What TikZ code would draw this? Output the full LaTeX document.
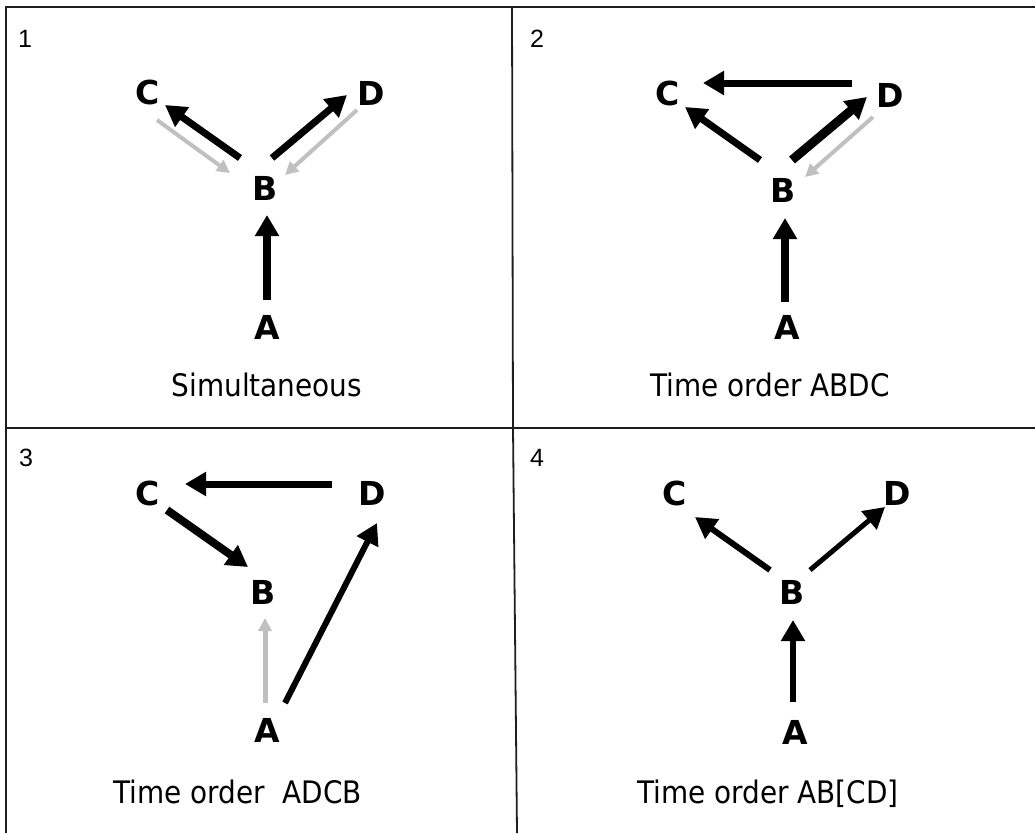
\documentclass[tikz,border=0pt]{standalone}
\usepackage{fontspec}
\setmainfont{DejaVu Sans}
\newfontfamily\numfont{Liberation Sans}
\newfontfamily\lblfont{DejaVu Sans Condensed}
\usetikzlibrary{arrows.meta,calc}
\definecolor{lightarr}{RGB}{192,192,192}
\definecolor{gridline}{RGB}{30,30,30}
\begin{document}
\begin{tikzpicture}[x=1pt,y=-1pt,
  letter/.style={font=\fontsize{33}{33}\selectfont\bfseries, inner sep=0pt},
  lbl/.style={font=\lblfont\fontsize{31}{31}\selectfont, inner sep=0pt, anchor=base},
  num/.style={font=\numfont\fontsize{25}{25}\selectfont, inner sep=0pt},
  blk/.style={line width=#1, -{Triangle[length=21pt,width=23pt]}},
  gry/.style={line width=#1, draw=lightarr, -{Triangle[length=13pt,width=13pt]}},
  frame/.style={line width=1.8pt, draw=gridline}]
\useasboundingbox (0,0) rectangle (1035,833);
\fill[white] (0,0) rectangle (1035,833);
% grid
\draw[frame] (6,833) -- (6,7) -- (1035,7);
\draw[frame] (6,428) -- (1035,428);
\draw[frame] (512,7) -- (513,428) -- (517,833);
% numbers
\node[num] (n1) at (25,39) {1};
\node[num] (n2) at (537,39) {2};
\node[num] (n3) at (26,458) {3};
\node[num] (n4) at (537,458) {4};
% panel 1
\node[letter] (C1) at (148,92) {C};
\node[letter] (D1) at (371,93) {D};
\node[letter] (B1) at (265,188) {B};
\node[letter] (A1) at (267,327) {A};
\draw[blk=7pt] ($(B1)+(-25,-30)$) -- ($(C1)+(17,13)$);
\draw[gry=4pt] ($(C1)+(9,28)$) -- ($(B1)+(-35,-15)$);
\draw[blk=7pt] ($(B1)+(7,-30)$) -- ($(D1)+(-24,2)$);
\draw[gry=4pt] ($(D1)+(-14,17)$) -- ($(B1)+(20,-13)$);
\draw[blk=8pt] ($(A1)+(0,-27)$) -- ($(B1)+(2,27)$);
\node[lbl] (L1) at (267,396) {Simultaneous};
% panel 2
\node[letter] (C2) at (668,93) {C};
\node[letter] (D2) at (890,95) {D};
\node[letter] (B2) at (783,190) {B};
\node[letter] (A2) at (787,327) {A};
\draw[blk=7pt] ($(D2)+(-38,-12)$) -- ($(C2)+(35,-10)$);
\draw[blk=7pt] ($(B2)+(-23,-30)$) -- ($(C2)+(17,14)$);
\draw[blk=9pt] ($(B2)+(9,-30)$) -- ($(D2)+(-23,2)$);
\draw[gry=4pt] ($(D2)+(-17,22)$) -- ($(B2)+(22,-13)$);
\draw[blk=8pt] ($(A2)+(-2,-25)$) -- ($(B2)+(2,28)$);
\node[lbl] (L2) at (770,396) {Time order ABDC};
% panel 3
\node[letter] (C3) at (148,493) {C};
\node[letter] (D3) at (372,493) {D};
\node[letter] (B3) at (263,592) {B};
\node[letter] (A3) at (267,730) {A};
\draw[blk=7pt] ($(D3)+(-40,-9)$) -- ($(C3)+(37,-9)$);
\draw[blk=8pt] ($(C3)+(19,17)$) -- ($(B3)+(-15,-25)$);
\draw[gry=5pt] ($(A3)+(-2,-27)$) -- ($(B3)+(2,26)$);
\draw[blk=6pt] ($(A3)+(18,-27)$) -- ($(D3)+(5,30)$);
\node[lbl] (L3) at (238,803) {Time order\ \ ADCB};
% panel 4
\node[letter] (C4) at (675,493) {C};
\node[letter] (D4) at (897,493) {D};
\node[letter] (B4) at (792,592) {B};
\node[letter] (A4) at (795,732) {A};
\draw[blk=6pt] ($(B4)+(-22,-22)$) -- ($(C4)+(20,24)$);
\draw[blk=5pt] ($(B4)+(18,-22)$) -- ($(D4)+(-12,14)$);
\draw[blk=6pt] ($(A4)+(-2,-30)$) -- ($(B4)+(1,28)$);
\node[lbl] (L4) at (768,803) {Time order AB[CD]};
\end{tikzpicture}
\end{document}
